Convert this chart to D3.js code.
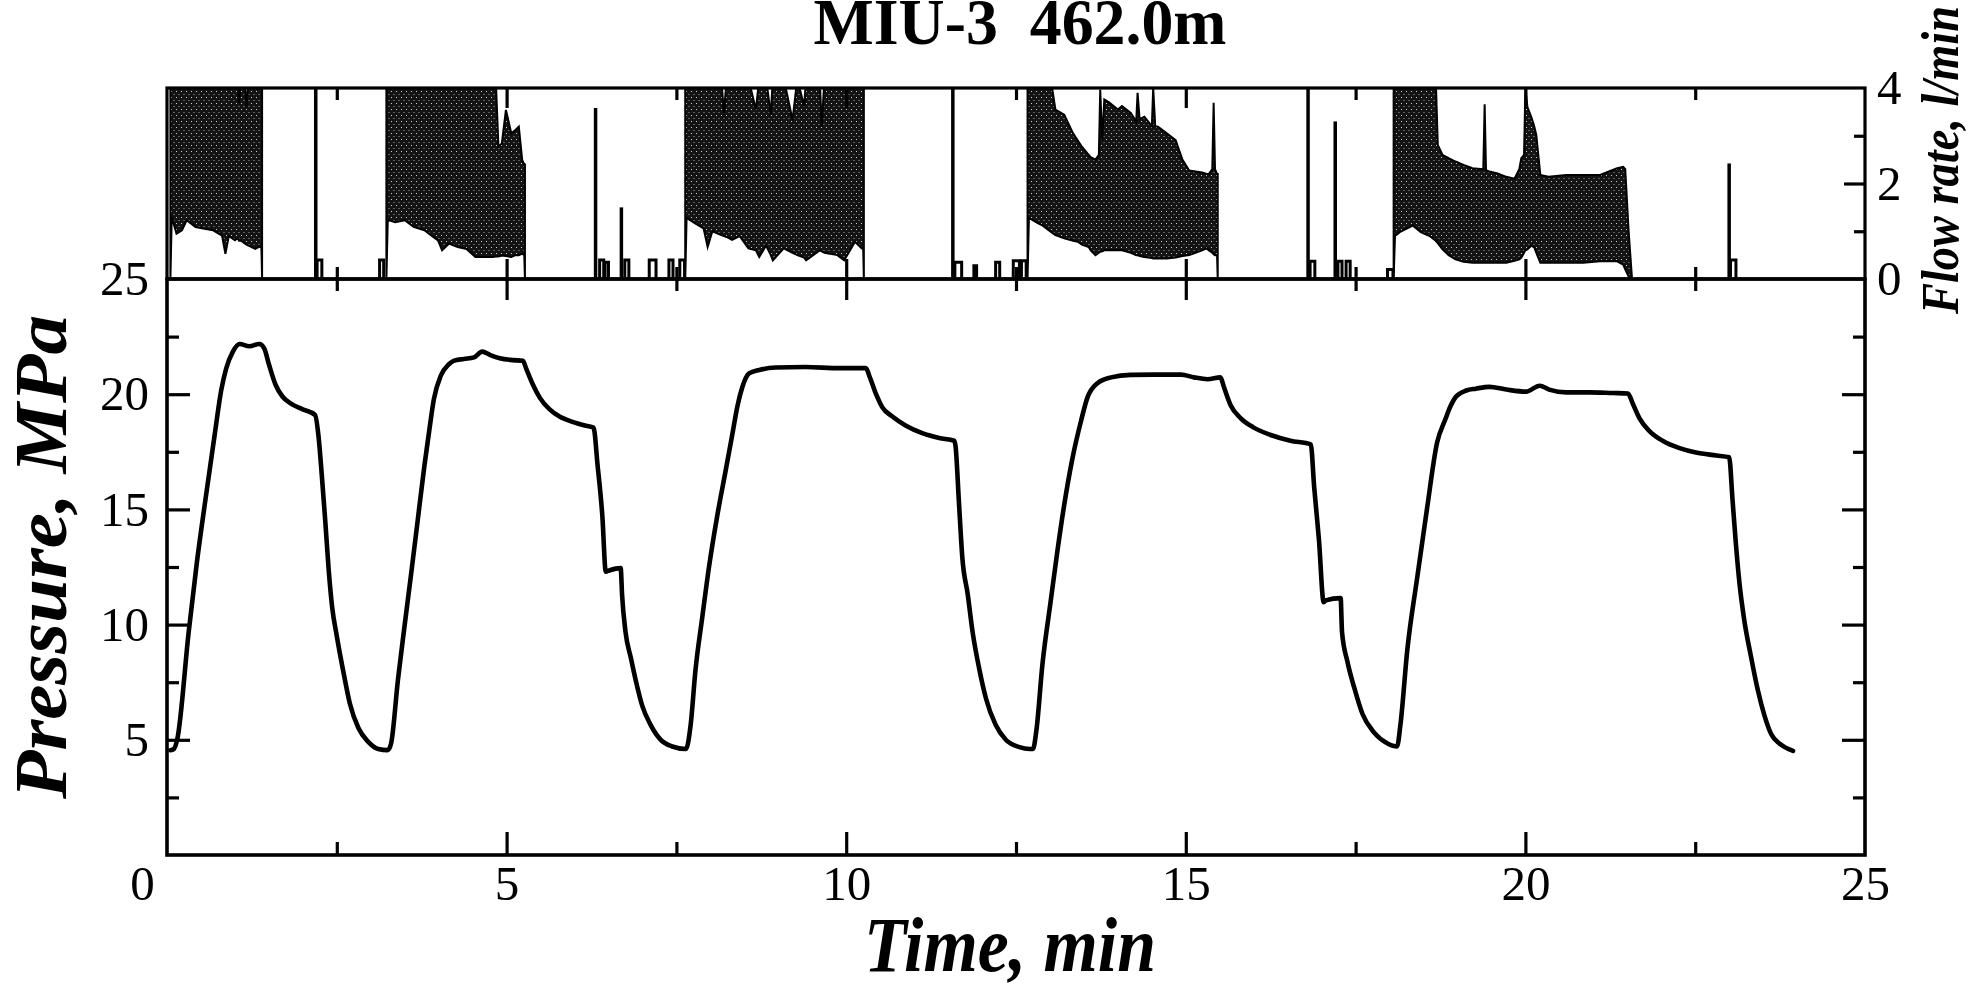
<!DOCTYPE html>
<html><head><meta charset="utf-8">
<script src="https://cdn.jsdelivr.net/npm/d3@7"></script>
<style>body{margin:0;background:#fff} svg{display:block}</style>
</head><body>
<svg id="chart" width="1971" height="987"></svg>
<script>
// ---------- data ----------
const titleText = "MIU-3\u00A0\u00A0462.0m";
const timeTicks = [0, 5, 10, 15, 20, 25];
const timeMinor = [2.5, 7.5, 12.5, 17.5, 22.5];
const pressureTicks = [5, 10, 15, 20, 25];
const pressureMinor = [2.5, 7.5, 12.5, 17.5, 22.5];
const flowTicks = [0, 2, 4];
const flowMinor = [1, 3];

// pressure [time min, MPa]
const pressure = [
 [0.05,4.55],[0.10,4.6],[0.15,5.0],[0.32,9.7],[0.44,12.7],[0.56,15.3],[0.70,18.2],[0.80,20.2],[0.87,21.1],[0.97,21.85],
 [1.07,22.18],[1.21,22.08],[1.36,22.18],[1.43,22.0],[1.50,21.3],[1.60,20.4],[1.70,19.9],[1.82,19.6],[1.99,19.35],[2.18,19.1],
 [2.23,18.2],[2.28,16.45],[2.33,14.5],[2.38,12.4],[2.43,10.8],[2.50,9.5],[2.60,7.9],[2.69,6.6],[2.82,5.5],[2.96,4.92],
 [3.11,4.6],[3.25,4.55],[3.30,4.85],[3.40,7.6],[3.50,10.0],[3.59,12.1],[3.69,14.5],[3.79,16.9],[3.86,18.4],[3.93,19.8],
 [4.03,20.8],[4.15,21.3],[4.22,21.45],[4.37,21.53],[4.52,21.6],[4.64,21.85],[4.76,21.7],[4.90,21.56],[5.10,21.48],[5.24,21.45],
 [5.29,21.1],[5.39,20.4],[5.49,19.84],[5.63,19.35],[5.78,19.03],[5.97,18.8],[6.17,18.63],[6.28,18.55],
 [6.34,16.9],[6.41,14.7],[6.46,12.3],[6.51,12.35],[6.68,12.45],[6.70,11.3],[6.75,9.7],[6.83,8.55],[6.90,7.6],[7.00,6.45],
 [7.12,5.65],[7.27,5.0],[7.44,4.71],[7.64,4.6],[7.71,5.65],[7.78,8.0],[7.88,10.3],[7.98,12.5],[8.10,14.7],[8.22,16.6],
 [8.32,18.2],[8.40,19.5],[8.47,20.3],[8.57,20.9],[8.72,21.05],[8.96,21.16],[9.40,21.18],[9.90,21.13],[10.29,21.13],
 [10.34,20.8],[10.44,20.0],[10.53,19.44],[10.68,19.03],[10.88,18.63],[11.12,18.31],[11.37,18.1],[11.59,17.98],
 [11.61,17.74],[11.66,15.3],[11.71,12.9],[11.79,11.3],[11.86,9.7],[11.96,8.06],[12.06,6.77],[12.20,5.65],[12.35,5.0],
 [12.55,4.68],[12.70,4.6],[12.75,4.6],[12.80,5.4],[12.89,8.3],[13.01,11.0],[13.11,13.2],[13.21,15.2],[13.33,17.2],
 [13.46,18.87],[13.55,19.84],[13.70,20.48],[13.90,20.73],[14.19,20.84],[14.53,20.85],[14.93,20.85],[15.12,20.73],
 [15.32,20.65],[15.51,20.73],[15.56,20.32],[15.66,19.52],[15.81,18.95],[16.00,18.55],[16.25,18.23],[16.54,17.98],
 [16.84,17.82],[16.89,15.97],[16.96,13.7],[17.03,10.97],[17.06,11.05],[17.28,11.15],[17.30,9.68],[17.38,8.39],
 [17.48,7.26],[17.60,6.13],[17.77,5.32],[17.97,4.84],[18.11,4.71],[18.16,5.65],[18.26,8.87],[18.41,12.1],[18.55,15.0],
 [18.70,17.9],[18.82,18.9],[18.90,19.5],[18.98,19.9],[19.13,20.16],[19.27,20.24],[19.47,20.32],[19.72,20.2],[20.01,20.11],
 [20.21,20.37],[20.35,20.2],[20.60,20.08],[20.94,20.08],[21.29,20.05],[21.51,20.03],[21.58,19.6],[21.68,18.95],
 [21.83,18.39],[22.02,17.98],[22.27,17.66],[22.51,17.47],[22.81,17.34],[23.00,17.26],[23.05,15.4],[23.10,13.47],
 [23.15,11.85],[23.22,10.24],[23.32,8.63],[23.42,7.18],[23.52,6.05],[23.62,5.24],[23.74,4.84],[23.94,4.52]
];

// flow while pumping: [time min, lower envelope, upper envelope] in l/min (values above 4 are off scale)
const pump1 = [
 [0.05,0,4.2],[0.07,1.3,4.2],[0.14,0.95,4.2],[0.22,1.02,4.2],[0.29,1.23,4.2],[0.42,1.09,4.2],[0.55,1.05,4.2],
 [0.68,1.02,4.2],[0.81,0.91,4.2],[0.86,0.53,4.2],[0.91,0.9,4.2],[1.0,0.81,4.2],[1.04,0.86,4.2],[1.06,0.8,3.68],
 [1.09,0.8,4.2],[1.14,0.75,4.2],[1.17,0.72,3.6],[1.2,0.7,4.2],[1.3,0.63,4.2],[1.36,0.68,4.2],[1.39,0.65,4.2],[1.40,0,4.2]
];
const pump2 = [
 [3.23,0,4.2],[3.25,1.2,4.2],[3.27,1.23,4.2],[3.36,1.19,4.2],[3.5,1.23,4.2],[3.63,1.09,4.2],[3.79,1.02,4.2],
 [3.89,0.91,4.2],[3.99,0.81,4.2],[4.05,0.6,4.2],[4.15,0.74,4.2],[4.28,0.67,4.2],[4.41,0.63,4.2],[4.54,0.46,4.2],
 [4.67,0.46,4.2],[4.80,0.46,4.2],[4.84,0.47,4.2],[4.88,0.47,2.77],[4.93,0.49,2.84],[4.99,0.48,3.54],[5.07,0.46,3.05],
 [5.13,0.5,3.12],[5.18,0.5,3.19],[5.23,0.53,2.49],[5.26,0.5,2.4],[5.27,0,2.4]
];
const pump3 = [
 [7.63,0,4.2],[7.65,1.28,4.2],[7.77,1.17,4.2],[7.9,1.06,4.2],[7.96,0.67,4.2],[8.03,1.0,4.2],[8.16,0.92,4.2],
 [8.2,0.9,3.48],[8.24,0.88,4.2],[8.32,0.82,4.2],[8.43,0.9,4.2],[8.56,0.64,4.2],[8.67,0.6,3.55],[8.72,0.46,4.2],
 [8.82,0.7,4.2],[8.89,0.5,3.44],[8.92,0.39,4.2],[9.08,0.64,4.2],[9.21,0.55,3.33],[9.28,0.5,4.2],[9.38,0.45,3.62],
 [9.41,0.39,4.2],[9.61,0.6,4.2],[9.64,0.58,3.19],[9.68,0.55,4.2],[9.87,0.5,4.2],[9.97,0.39,4.2],[10.13,0.78,4.2],
 [10.23,0.64,4.2],[10.25,0.64,4.2],[10.26,0,4.2]
];
const pump4 = [
 [12.67,0,4.2],[12.69,1.28,4.2],[12.82,1.17,4.2],[12.88,1.13,4.2],[13.01,0.99,4.2],[13.08,0.92,3.55],[13.21,0.85,3.44],
 [13.34,0.8,3.05],[13.41,0.78,2.9],[13.47,0.72,2.77],[13.57,0.67,2.6],[13.6,0.6,2.55],[13.67,0.5,2.5],[13.72,0.55,2.6],
 [13.74,0.57,3.97],[13.77,0.58,2.9],[13.80,0.6,3.76],[13.87,0.6,3.7],[14.0,0.6,3.55],[14.06,0.6,3.62],[14.19,0.55,3.48],
 [14.27,0.5,3.3],[14.29,0.5,3.9],[14.32,0.48,3.35],[14.39,0.46,3.4],[14.50,0.44,3.2],[14.52,0.43,4.0],[14.55,0.43,3.2],
 [14.59,0.43,3.19],[14.72,0.43,3.05],[14.85,0.45,2.91],[14.95,0.48,2.5],[15.05,0.5,2.27],[15.24,0.6,2.23],
 [15.31,0.64,2.2],[15.34,0.6,2.2],[15.39,0.55,2.3],[15.41,0.52,3.69],[15.43,0.5,2.3],[15.46,0.5,2.2],[15.47,0,2.2]
];
const pump5 = [
 [18.06,0,4.2],[18.08,0.9,4.2],[18.15,0.98,4.2],[18.34,1.12,4.2],[18.46,0.98,4.2],[18.59,0.9,4.2],[18.68,0.8,4.2],
 [18.71,0.75,2.81],[18.78,0.62,2.6],[18.87,0.5,2.53],[18.97,0.41,2.46],[19.09,0.36,2.39],[19.22,0.34,2.32],
 [19.38,0.34,2.3],[19.40,0.34,3.66],[19.42,0.34,2.28],[19.47,0.34,2.25],[19.59,0.34,2.21],[19.72,0.34,2.14],
 [19.84,0.38,2.1],[19.91,0.41,2.3],[19.94,0.45,2.53],[19.98,0.55,2.6],[20.0,0.6,4.0],[20.03,0.62,3.6],[20.09,0.7,3.38],
 [20.13,0.66,3.2],[20.16,0.55,3.02],[20.22,0.34,2.18],[20.34,0.34,2.14],[20.6,0.34,2.18],[20.85,0.34,2.18],
 [21.1,0.37,2.18],[21.35,0.37,2.32],[21.44,0.3,2.35],[21.47,0.2,2.3],[21.52,0.05,1.0],[21.57,0,0]
];
const pumpBands = [pump1, pump2, pump3, pump4, pump5];
// isolated flow spikes [time, l/min]
const flowSpikes = [[2.19,4.2],[6.31,3.58],[6.69,1.5],[11.57,4.2],[16.8,4.2],[17.2,3.3],[23.0,2.42]];
// small flow blips [start, end, l/min]
const flowBlips = [
 [2.21,2.28,0.4],[3.13,3.19,0.4],[6.37,6.43,0.4],[6.45,6.5,0.35],[6.74,6.8,0.4],[7.1,7.2,0.4],[7.39,7.45,0.4],
 [7.55,7.62,0.4],[11.6,11.7,0.35],[11.88,11.92,0.28],[12.2,12.26,0.35],[12.46,12.55,0.38],[12.58,12.65,0.38],
 [16.83,16.9,0.37],[17.24,17.3,0.37],[17.36,17.42,0.37],[17.97,18.05,0.2],[23.02,23.1,0.4]
];

// ---------- drawing ----------
const FONT = "'Liberation Serif','Times New Roman',serif";
const svg = d3.select('#chart');
const L = 167, R = 1865, T1 = 88, MID = 279, B = 855;
const x = d3.scaleLinear().domain([0, 25]).range([L, R]);
const yP = d3.scaleLinear().domain([0, 25]).range([B, MID]);
const yF = d3.scaleLinear().domain([0, 4]).range([MID, T1]);

const defs = svg.append('defs');
defs.append('clipPath').attr('id', 'clipTop')
  .append('rect').attr('x', L).attr('y', T1).attr('width', R - L).attr('height', MID - T1);
// speckled dark fill imitating the dense oscillation of the flow record
const pat = defs.append('pattern').attr('id', 'dense').attr('patternUnits', 'userSpaceOnUse')
  .attr('width', 5).attr('height', 6);
pat.append('rect').attr('width', 5).attr('height', 6).attr('fill', '#141414');
pat.append('rect').attr('x', 1).attr('y', 1).attr('width', 1).attr('height', 1).attr('fill', '#d0d0d0');
pat.append('rect').attr('x', 3.5).attr('y', 4).attr('width', 1).attr('height', 1).attr('fill', '#a0a0a0');

// flow panel
const gF = svg.append('g').attr('clip-path', 'url(#clipTop)');
const band = d3.area().x(d => x(d[0])).y0(d => yF(d[1])).y1(d => yF(d[2]));
gF.selectAll('path.band').data(pumpBands).join('path').attr('class', 'band')
  .attr('d', band).attr('fill', 'url(#dense)').attr('stroke', '#000').attr('stroke-width', 2);
gF.selectAll('line.spike').data(flowSpikes).join('line').attr('class', 'spike')
  .attr('x1', d => x(d[0])).attr('x2', d => x(d[0]))
  .attr('y1', yF(0)).attr('y2', d => yF(d[1]))
  .attr('stroke', '#000').attr('stroke-width', 3.5);
gF.selectAll('path.blip').data(flowBlips).join('path').attr('class', 'blip')
  .attr('d', d => `M${x(d[0])},${yF(0)}V${yF(d[2])}H${x(d[1])}V${yF(0)}`)
  .attr('fill', 'none').attr('stroke', '#000').attr('stroke-width', 3);

// pressure curve
svg.append('path').datum(pressure)
  .attr('d', d3.line().curve(d3.curveMonotoneX).x(d => x(d[0])).y(d => yP(d[1])))
  .attr('fill', 'none').attr('stroke', '#000').attr('stroke-width', 4.6)
  .attr('stroke-linejoin', 'round').attr('stroke-linecap', 'round');

// frames
svg.append('rect').attr('x', L).attr('y', T1).attr('width', R - L).attr('height', MID - T1)
  .attr('fill', 'none').attr('stroke', '#000').attr('stroke-width', 3.2);
svg.append('rect').attr('x', L).attr('y', MID).attr('width', R - L).attr('height', B - MID)
  .attr('fill', 'none').attr('stroke', '#000').attr('stroke-width', 3.6);

// tick helper
function ticks(gen, tx, ty, values, size) {
  svg.append('g').attr('transform', `translate(${tx},${ty})`)
    .call(gen.tickValues(values).tickSize(size).tickFormat(''))
    .call(g => g.select('.domain').remove())
    .selectAll('line').attr('stroke', '#000').attr('stroke-width', 3.2);
}
const majT = timeTicks.slice(1, -1);
ticks(d3.axisBottom(x), 0, B, majT, -23);
ticks(d3.axisBottom(x), 0, B, timeMinor, -13);
ticks(d3.axisTop(x), 0, MID, majT, -21);
ticks(d3.axisTop(x), 0, MID, timeMinor, -12);
ticks(d3.axisBottom(x), 0, MID, majT, -20);
ticks(d3.axisBottom(x), 0, MID, timeMinor, -12);
ticks(d3.axisTop(x), 0, T1, majT, -20);
ticks(d3.axisTop(x), 0, T1, timeMinor, -12);
const majP = pressureTicks.slice(0, -1);
ticks(d3.axisLeft(yP), L, 0, majP, -23);
ticks(d3.axisLeft(yP), L, 0, pressureMinor, -12);
ticks(d3.axisRight(yP), R, 0, majP, -23);
ticks(d3.axisRight(yP), R, 0, pressureMinor, -12);
ticks(d3.axisRight(yF), R, 0, [2], -21);
ticks(d3.axisRight(yF), R, 0, flowMinor, -11);

// labels helper
function labels(gen, tx, ty, values, pad) {
  const g = svg.append('g').attr('transform', `translate(${tx},${ty})`)
    .call(gen.tickValues(values).tickSize(0).tickPadding(pad).tickFormat(d3.format('d')));
  g.select('.domain').remove();
  g.selectAll('text').attr('font-family', FONT).attr('font-size', 49).attr('fill', '#000');
  return g;
}
const gx = labels(d3.axisBottom(x), 0, B, timeTicks, 10);
gx.selectAll('text').filter(d => d === 0).attr('dx', -25);
labels(d3.axisLeft(yP), L, 0, pressureTicks, 18);
labels(d3.axisRight(yF), R, 0, flowTicks, 12);

// title & axis titles
svg.append('text').attr('x', 1020).attr('y', 44).attr('text-anchor', 'middle')
  .attr('font-family', FONT).attr('font-weight', 'bold').attr('font-size', 65)
  .attr('textLength', 413).attr('lengthAdjust', 'spacingAndGlyphs').text(titleText);
svg.append('text').attr('x', 1010).attr('y', 971).attr('text-anchor', 'middle')
  .attr('font-family', FONT).attr('font-weight', 'bold').attr('font-style', 'italic').attr('font-size', 78)
  .attr('textLength', 292).attr('lengthAdjust', 'spacingAndGlyphs').text('Time, min');
svg.append('text').attr('transform', 'translate(66,557) rotate(-90)').attr('text-anchor', 'middle')
  .attr('font-family', FONT).attr('font-weight', 'bold').attr('font-style', 'italic').attr('font-size', 74)
  .attr('textLength', 484).attr('lengthAdjust', 'spacingAndGlyphs').text('Pressure, MPa');
svg.append('text').attr('transform', 'translate(1958,314) rotate(-90)').attr('text-anchor', 'start')
  .attr('font-family', FONT).attr('font-weight', 'bold').attr('font-style', 'italic').attr('font-size', 52)
  .attr('textLength', 308).attr('lengthAdjust', 'spacingAndGlyphs').text('Flow rate, l/min');
</script>
</body></html>
